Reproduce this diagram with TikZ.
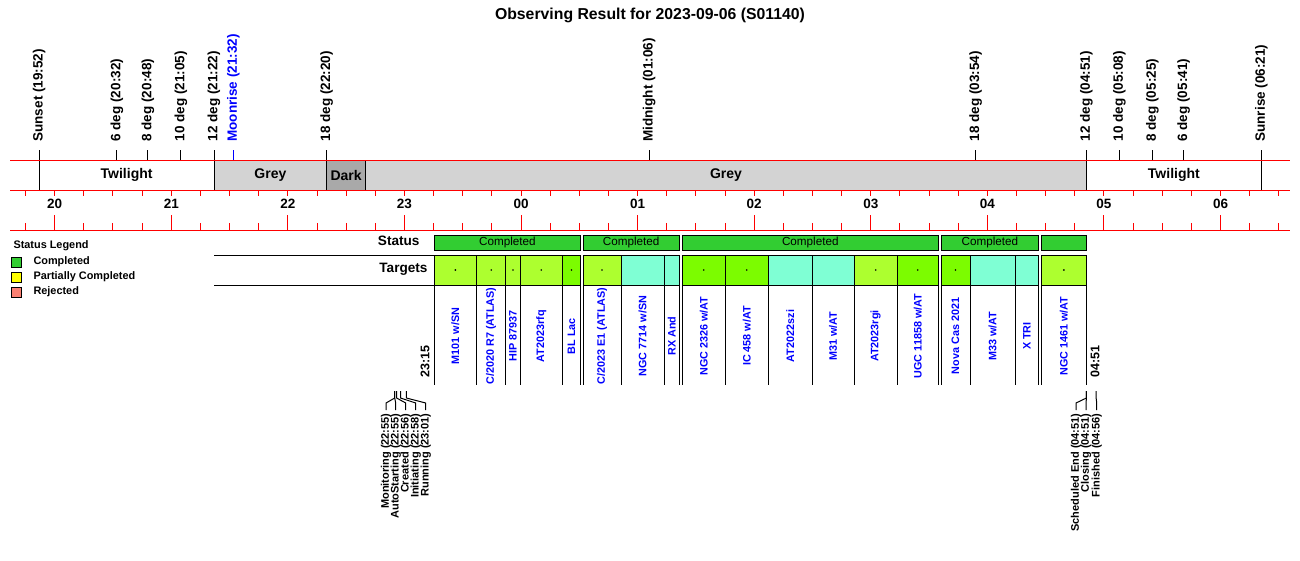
\documentclass[tikz,border=0pt]{standalone}
\usepackage{fontspec}
\setmainfont{Liberation Sans}
\usetikzlibrary{positioning}
\definecolor{statgreen}{RGB}{50,205,50}
\definecolor{tgtyg}{RGB}{173,255,47}
\definecolor{tgtlawn}{RGB}{124,252,0}
\definecolor{tgtaqua}{RGB}{127,255,212}
\definecolor{partyellow}{RGB}{255,255,0}
\definecolor{rejsalmon}{RGB}{250,128,114}
\definecolor{greyband}{RGB}{211,211,211}
\definecolor{darkband}{RGB}{169,169,169}
\definecolor{tgtblue}{RGB}{0,0,255}
\tikzset{
  evlabel/.style={rotate=90, anchor=west, inner sep=0pt, font=\fontsize{13.5}{15}\selectfont\bfseries},
  bandtext/.style={font=\fontsize{14}{16}\selectfont\bfseries},
  hourlabel/.style={font=\fontsize{13.5}{15}\selectfont\bfseries},
  redline/.style={red, line width=1pt},
  redtick/.style={red, line width=1pt},
  rowhead/.style={anchor=east, inner sep=0pt, font=\fontsize{13.6}{15}\selectfont\bfseries},
  statbox/.style={draw=black, fill=statgreen, line width=1pt},
  stattext/.style={font=\fontsize{11.7}{13}\selectfont},
  cellbox/.style={draw=black, line width=1pt},
  tgtlabel/.style={rotate=90, inner sep=0pt, text=tgtblue, font=\fontsize{10.8}{12}\selectfont\bfseries},
  timelabel/.style={rotate=90, anchor=west, inner sep=0pt, font=\fontsize{12.5}{14}\selectfont\bfseries},
  stlabel/.style={rotate=90, anchor=east, inner sep=0pt, font=\fontsize{11}{12}\selectfont\bfseries},
  legtitle/.style={anchor=west, inner sep=0pt, font=\fontsize{10.9}{12}\selectfont\bfseries},
  legtext/.style={anchor=west, inner sep=0pt, font=\fontsize{10.9}{12}\selectfont\bfseries},
  legbox/.style={draw=black, line width=1pt}
}
\begin{document}
\begin{tikzpicture}[x=1pt, y=-1pt, line width=1pt, declare function={tx(\q)=54.7+1.943*\q;}]
\useasboundingbox (0,0) rectangle (1300,560);
\node [font=\fontsize{15.8}{18}\selectfont\bfseries] (title) at (650,15) {Observing Result for 2023-09-06 (S01140)};
% night bands
\draw [fill=white] ({tx(-8)},160) rectangle node[bandtext] (tw1) {Twilight} ({tx(82)},190);
\draw [fill=greyband] ({tx(82)},160) rectangle node[bandtext] (grey1) {Grey} ({tx(140)},190);
\draw [fill=darkband] ({tx(140)},160) rectangle node[bandtext] (dark) {Dark} ({tx(160)},190);
\draw [fill=greyband] ({tx(160)},160) rectangle node[bandtext] (grey2) {Grey} ({tx(531)},190);
\draw [fill=white] ({tx(531)},160) rectangle node[bandtext] (tw2) {Twilight} ({tx(621)},190);
\draw [redline] (10,160) -- (1290,160);
\draw [redline] (10,190) -- (1290,190);
\draw [redline] (10,230) -- (1290,230);
\foreach \q in {-15,0,...,630} {
  \draw [redtick] ({tx(\q)},190) -- ++(0,6);
  \draw [redtick] ({tx(\q)},230) -- ++(0,-7);
}
\foreach \h/\lab in {0/20,1/21,2/22,3/23,4/00,5/01,6/02,7/03,8/04,9/05,10/06} {
  \draw [redtick] ({tx(60*\h)},230) -- ++(0,-15);
  \node [hourlabel] (hr\h) at ({tx(60*\h)},204) {\lab};
}
% sun and moon events
\foreach \q/\txt/\cl [count=\k] in {-8/{Sunset (19:52)}/black, 32/{6 deg (20:32)}/black, 48/{8 deg (20:48)}/black, 65/{10 deg (21:05)}/black, 82/{12 deg (21:22)}/black, 92/{Moonrise (21:32)}/tgtblue, 140/{18 deg (22:20)}/black, 306/{Midnight (01:06)}/black, 474/{18 deg (03:54)}/black, 531/{12 deg (04:51)}/black, 548/{10 deg (05:08)}/black, 565/{8 deg (05:25)}/black, 581/{6 deg (05:41)}/black, 621/{Sunrise (06:21)}/black} {
  \node [evlabel, text=\cl] (ev\k) at ({tx(\q)},142) {\txt};
  \draw [\cl] ([yshift=-8pt]ev\k.west) -- ++(0,10);
}
% legend
\node [legtitle] (legend) at (13,246) {Status Legend};
\draw [legbox, fill=statgreen] (11,257.5) rectangle (21.5,267.5);
\node [legtext] (legdone) at (33,262) {Completed};
\draw [legbox, fill=partyellow] (11,272.5) rectangle (21.5,282.5);
\node [legtext] (legpart) at (33,277) {Partially Completed};
\draw [legbox, fill=rejsalmon] (11,287.5) rectangle (21.5,297.5);
\node [legtext] (legrej) at (33,292) {Rejected};
% status and targets
\node [rowhead] (stathead) at (420,241) {Status};
\node [rowhead] (tgthead) at (428,269) {Targets};
\draw (214,255) -- (434,255);
\draw (214,285) -- (434,285);
\foreach \xa/\xb/\st in {434/580.7/Completed, 583/679.3/Completed, 682.3/938.3/Completed, 941/1038.7/Completed, 1041/1086.7/{}}
  \draw [statbox] (\xa,235) rectangle node[stattext]{\st} (\xb,250);
\foreach \xa/\xb/\cc/\dt/\nm [count=\k] in {434/476.7/tgtyg/1/{M101 w/SN}, 476.7/505.7/tgtyg/1/{C/2020 R7 (ATLAS)}, 505.7/520.3/tgtyg/1/{HIP 87937}, 520.3/562.3/tgtyg/1/{AT2023rfq}, 562.3/580.7/tgtlawn/1/{BL Lac}, 583/621/tgtyg/1/{C/2023 E1 (ATLAS)}, 621/664.3/tgtaqua/0/{NGC 7714 w/SN}, 664.3/679.3/tgtaqua/0/{RX And}, 682.3/725.3/tgtlawn/1/{NGC 2326 w/AT}, 725.3/768.3/tgtlawn/1/{IC 458 w/AT}, 768.3/812.3/tgtaqua/0/{AT2022szi}, 812.3/854/tgtaqua/0/{M31 w/AT}, 854/897.3/tgtyg/1/{AT2023rgi}, 897.3/938.3/tgtlawn/1/{UGC 11858 w/AT}, 941/970/tgtlawn/1/{Nova Cas 2021}, 970/1015.3/tgtaqua/0/{M33 w/AT}, 1015.3/1038.7/tgtaqua/0/{X TRI}, 1041/1086.7/tgtyg/1/{NGC 1461 w/AT}} {
  \draw [cellbox, fill=\cc] (\xa,255) rectangle (\xb,285);
  \ifnum\dt=1 \fill ({(\xa+\xb)/2},270) circle (0.9); \fi
  \draw (\xa,285) -- (\xa,385) (\xb,285) -- (\xb,385);
  \node [tgtlabel] (tgt\k) at ({(\xa+\xb)/2},336) {\nm};
}
\node [timelabel] (tstart) at (425,378) {23:15};
\node [timelabel] (tend) at (1095,378) {04:51};
% observation states
\foreach \q/\lx/\txt [count=\k] in {175/386/{Monitoring (22:55)}, 175/395.7/{AutoStarting (22:55)}, 176/405.7/{Created (22:56)}, 178/415.7/{Initiating (22:58)}, 181/425.7/{Running (23:01)}, 531/1076/{Scheduled End (04:51)}, 531/1086/{Closing (04:51)}, 536/1096.7/{Finished (04:56)}} {
  \node [stlabel] (st\k) at (\lx,413) {\txt};
  \coordinate (sttime\k) at ({tx(\q)},391);
  \draw (sttime\k) -- ++(0,7) -- ([yshift=10pt]st\k.east) -- ([yshift=3pt]st\k.east);
}
\end{tikzpicture}
\end{document}
